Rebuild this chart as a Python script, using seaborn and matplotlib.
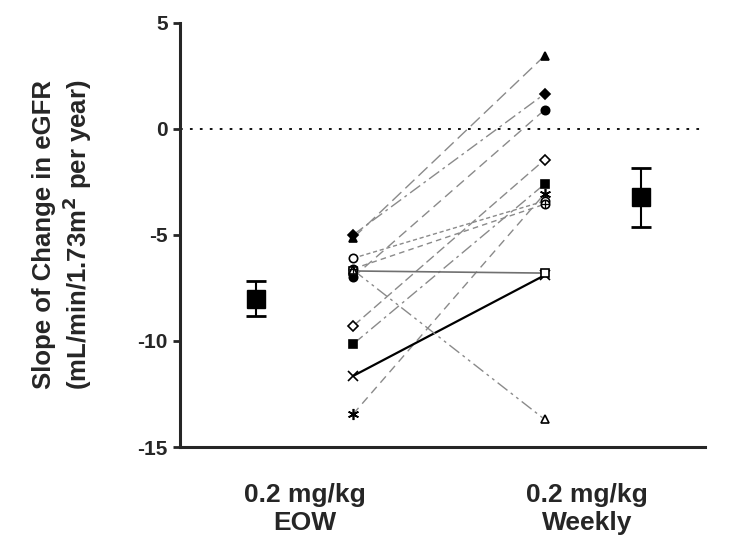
import numpy as np
import pandas as pd
import matplotlib
matplotlib.use("Agg")
import matplotlib.pyplot as plt
import seaborn as sns

# data
groups = ["0.2 mg/kg\nEOW", "0.2 mg/kg\nWeekly"]
eow = [-5.15, -5.0, -7.0, -9.3, -10.15, -13.45, -6.1, -6.6, -11.65, -6.7, -6.65]
weekly = [3.45, 1.65, 0.9, -1.45, -2.6, -3.05, -3.4, -3.55, -6.9, -6.8, -13.7]
mean_vals = [-8.0, -3.2]
err_low = [0.8, 1.45]
err_high = [0.85, 1.35]

markers = ["^", "D", "o", "D", "s", (6, 2, 0), "o", "o", "x", "s", "^"]
filled = [True, True, True, False, True, True, False, False, True, False, False]
styles = [(0, (9, 4)), (0, (9, 3, 2, 3)), (0, (7, 4)), (0, (7, 3)), (0, (9, 3, 2, 3)),
          (0, (6, 4)), (0, (3, 2)), (0, (4, 3)), "-", "-", (0, (9, 3, 2, 3, 2, 3))]
colors = ["#8a8a8a"] * 8 + ["black", "#707070", "#8a8a8a"]
widths = [1.0] * 8 + [1.6, 1.2, 1.0]
msizes = [6, 5, 6, 5, 6, 8, 6, 6, 7, 6, 6]

sns.set_style("ticks")
plt.rcParams["font.family"] = ["Liberation Sans", "DejaVu Sans"]
plt.rcParams["font.weight"] = "bold"
plt.rcParams["axes.unicode_minus"] = False

fig = plt.figure(figsize=(7.52, 5.56), dpi=100)
ax = fig.add_axes([0.239, 0.196, 0.699, 0.763])

x_pts = [1.17, 1.85]
x_mean = [0.826, 2.19]

df = pd.DataFrame({"x": x_pts * len(eow),
                   "y": np.ravel(np.column_stack([eow, weekly])),
                   "pid": np.repeat(np.arange(len(eow)), 2)})

for i in range(len(eow)):
    d = df[df.pid == i]
    sns.lineplot(data=d, x="x", y="y", ax=ax, color=colors[i], linewidth=widths[i],
                 linestyle=styles[i], legend=False, sort=False, zorder=2)
    ax.plot(d.x, d.y, linestyle="none", marker=markers[i], markersize=msizes[i],
            markerfacecolor="black" if filled[i] else "white", markeredgecolor="black",
            markeredgewidth=1.2, zorder=3)
    if i == 7:
        ax.plot(d.x, d.y, linestyle="none", marker="+", markersize=6, color="black",
                markeredgewidth=0.9, zorder=4)

ax.errorbar(x_mean, mean_vals, yerr=[err_low, err_high], fmt="s", color="black",
            markersize=13, capsize=7, elinewidth=1.5, capthick=2, zorder=5)

ax.axhline(0, color="black", linestyle=(0, (1.5, 4)), linewidth=1.3, zorder=1)

ax.set_xlim(0.555, 2.42)
ax.set_ylim(-15, 5)
ax.set_yticks([-15, -10, -5, 0, 5])
ax.set_xticks([1, 2])
ax.set_xticklabels(groups, fontsize=19, fontweight="bold")
ax.tick_params(axis="x", length=0, pad=26)
ax.tick_params(axis="y", direction="out", length=5, width=2, labelsize=15)
for lab in ax.get_yticklabels():
    lab.set_fontweight("bold")
ax.set_xlabel("")
ax.set_ylabel("Slope of Change in eGFR\n(mL/min/1.73m$^\\mathbf{2}$ per year)",
              fontsize=18.5, fontweight="bold", labelpad=31, linespacing=1.2)
sns.despine(ax=ax)
ax.spines["left"].set_linewidth(2.2)
ax.spines["bottom"].set_linewidth(2.2)

fig.savefig("out.png", dpi=100)
